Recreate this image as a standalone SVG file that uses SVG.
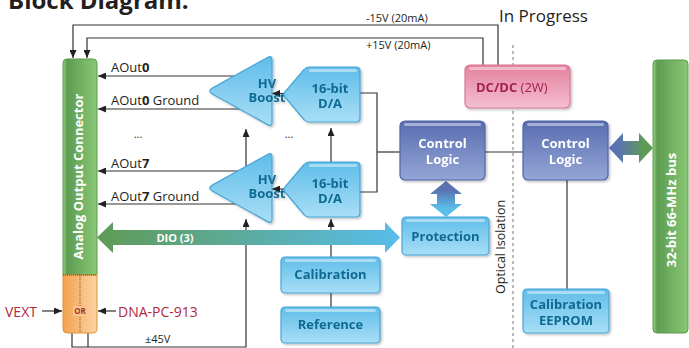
<svg xmlns="http://www.w3.org/2000/svg" width="689" height="348" viewBox="0 0 689 348">
<defs>
<style>
.ln{fill:none;stroke:#333;stroke-width:1.2}
.dk{font-family:"Open Sans","Liberation Sans",sans-serif;fill:#231f20}
.lb{font-family:"Open Sans","Liberation Sans",sans-serif;font-size:13px;fill:#231f20}
.bt{font-family:"Open Sans","Liberation Sans",sans-serif;font-weight:bold;font-size:13px;fill:#0f6a93;text-anchor:middle}
.wt{font-family:"Open Sans","Liberation Sans",sans-serif;font-weight:bold;fill:#fff;text-anchor:middle}
.rd{font-family:"Open Sans","Liberation Sans",sans-serif;font-size:14px;fill:#b0283a}
.blue{fill:url(#gBlue);stroke:#48a6d6;stroke-width:1.2}
.slate{fill:url(#gSlate);stroke:#4f64a8;stroke-width:1.2}
.hl{fill:#fff;opacity:0.45}
.shd{filter:url(#shadow)}
</style>
<linearGradient id="gBlue" x1="0" y1="0" x2="0" y2="1">
<stop offset="0" stop-color="#5fbde9"/><stop offset="1" stop-color="#a9def6"/>
</linearGradient>
<linearGradient id="gSlate" x1="0" y1="0" x2="0" y2="1">
<stop offset="0" stop-color="#586daf"/><stop offset="1" stop-color="#94a5d6"/>
</linearGradient>
<linearGradient id="gPink" x1="0" y1="0" x2="0" y2="1">
<stop offset="0" stop-color="#e5819f"/><stop offset="1" stop-color="#f4bfd0"/>
</linearGradient>
<linearGradient id="gGreen" x1="0" y1="0" x2="1" y2="0">
<stop offset="0" stop-color="#98d184"/><stop offset="0.12" stop-color="#5d9c51"/><stop offset="1" stop-color="#8ac877"/>
</linearGradient>
<linearGradient id="gOrange" x1="0" y1="0" x2="1" y2="0">
<stop offset="0" stop-color="#f3a24f"/><stop offset="1" stop-color="#fdd3a2"/>
</linearGradient>
<linearGradient id="gDio" x1="97" y1="0" x2="400" y2="0" gradientUnits="userSpaceOnUse">
<stop offset="0" stop-color="#5f9a55"/><stop offset="1" stop-color="#58bdec"/>
</linearGradient>
<linearGradient id="gBus" x1="609" y1="0" x2="653" y2="0" gradientUnits="userSpaceOnUse">
<stop offset="0.2" stop-color="#5a72b3"/><stop offset="0.8" stop-color="#5e9c56"/>
</linearGradient>
<linearGradient id="gVert" x1="0" y1="181" x2="0" y2="217" gradientUnits="userSpaceOnUse">
<stop offset="0.25" stop-color="#5a71b2"/><stop offset="0.75" stop-color="#5bbde9"/>
</linearGradient>
<filter id="shadow" x="-10%" y="-10%" width="125%" height="130%">
<feDropShadow dx="1.5" dy="1.5" stdDeviation="1" flood-color="#000" flood-opacity="0.25"/>
</filter>
<marker id="ar" viewBox="0 0 8 7" refX="8" refY="3.5" markerWidth="8" markerHeight="7" markerUnits="userSpaceOnUse" orient="auto">
<path d="M0,0 L8,3.5 L0,7 z" fill="#222"/>
</marker>
</defs>

<rect width="689" height="348" fill="#fff"/>

<text class="dk" x="8" y="9" font-size="24" font-weight="bold">Block Diagram:</text>
<text class="dk" x="499" y="22" font-size="17" fill="#333">In Progress</text>

<!-- optical isolation -->
<g id="isolation">
<line x1="513" y1="45" x2="513" y2="348" stroke="#8a8a8a" stroke-width="1.2" stroke-dasharray="3,3"/>
<text class="dk" transform="translate(505,247) rotate(-90)" font-size="12.5" fill="#555" text-anchor="middle">Optical Isolation</text>
</g>

<g id="connectors">
<path class="ln" d="M498,65 V25 H73 V58" marker-end="url(#ar)"/>
<path class="ln" d="M483,65 V38 H87 V58" marker-end="url(#ar)"/>
<path class="ln" d="M245,76 H98" marker-end="url(#ar)"/>
<path class="ln" d="M245,109 H98" marker-end="url(#ar)"/>
<path class="ln" d="M245,171 H98" marker-end="url(#ar)"/>
<path class="ln" d="M245,204 H98" marker-end="url(#ar)"/>
<path class="ln" d="M284,93.5 H272" marker-end="url(#ar)"/>
<path class="ln" d="M284,189 H272" marker-end="url(#ar)"/>
<path class="ln" d="M72,333 V347 H246 V219" marker-end="url(#ar)"/>
<path class="ln" d="M88,333 V347"/>
<path class="ln" d="M246,168 V129" marker-end="url(#ar)"/>
<path class="ln" d="M331,257 V219" marker-end="url(#ar)"/>
<path class="ln" d="M331,165 V128" marker-end="url(#ar)"/>
<path class="ln" d="M331,293 V307"/>
<path class="ln" d="M360,93 H377 V192 H360"/>
<path class="ln" d="M377,152 H400"/>
<path class="ln" d="M485,152 H523"/>
<path class="ln" d="M567,180 V289"/>
<path class="ln" d="M42,311 H62" marker-end="url(#ar)"/>
<path class="ln" d="M116,311 H98" marker-end="url(#ar)"/>
<text class="dk" x="366" y="22" font-size="11">-15V (20mA)</text>
<text class="dk" x="366" y="49" font-size="11">+15V (20mA)</text>
<text class="dk" x="145" y="343" font-size="11">±45V</text>
<!-- DIO block arrow -->
<path d="M97,237.5 L113,222 L113,230 L385,230 L385,222 L400,237.5 L385,253 L385,245 L113,245 L113,253 Z" fill="url(#gDio)"/>
<text class="wt" x="175" y="242" font-size="11">DIO (3)</text>
<!-- bus arrow -->
<path d="M609,148 L623,133 L623,141 L639,141 L639,133 L653,148 L639,163 L639,155 L623,155 L623,163 Z" fill="url(#gBus)"/>
<!-- control/protection arrow -->
<path d="M446,181 L462,194 L455,194 L455,204 L462,204 L446,217 L430,204 L437,204 L437,194 L430,194 Z" fill="url(#gVert)"/>
</g>

<g id="connector-analog">
<path d="M63,275 V63 Q63,59 67,59 H93 Q97,59 97,63 V275 Z" fill="url(#gGreen)" stroke="#5a9a4a" stroke-width="1"/>
<path d="M63,275 H97 V329 Q97,333 93,333 H67 Q63,333 63,329 Z" fill="url(#gOrange)" stroke="#e3913c" stroke-width="1"/>
<line x1="63" y1="275" x2="97" y2="275" stroke="#5a3a1a" stroke-width="0.8" stroke-dasharray="1,1"/>
<line x1="80" y1="275" x2="80" y2="333" stroke="#5a3a1a" stroke-width="0.8" stroke-dasharray="1,1"/>
<text class="wt" transform="translate(83,176.5) rotate(-90)" font-size="13">Analog Output Connector</text>
<rect x="73" y="306" width="14" height="10" fill="#fcc58a"/>
<text x="80" y="314" font-family="Open Sans,Liberation Sans,sans-serif" font-size="8" font-weight="bold" fill="#a8322f" text-anchor="middle">OR</text>
</g>

<g id="labels-aout">
<text class="lb" x="111" y="72">AOut<tspan font-weight="bold">0</tspan></text>
<text class="lb" x="111" y="105">AOut<tspan font-weight="bold">0</tspan> Ground</text>
<text class="lb" x="111" y="168">AOut<tspan font-weight="bold">7</tspan></text>
<text class="lb" x="111" y="201">AOut<tspan font-weight="bold">7</tspan> Ground</text>
<text class="dk" x="138" y="138" font-size="11" text-anchor="middle">...</text>
<text class="dk" x="289" y="138" font-size="11" text-anchor="middle">...</text>
</g>

<g id="vext">
<text class="rd" x="5" y="317">VEXT</text>
<text class="rd" x="118" y="317">DNA-PC-913</text>
</g>

<g id="hv-boost-0" class="shd">
<path class="blue" d="M272,60 L272,122 Q272,127 267.6,124.6 L212.3,93.9 Q207,91 212.3,88.1 L267.6,57.4 Q272,55 272,60 Z"/>
<text class="bt" x="267" y="88" font-size="12" text-anchor="end">HV</text>
<text class="bt" x="267" y="101.5" font-size="12" text-anchor="end">Boost</text>
</g>
<g id="hv-boost-7" class="shd">
<path class="blue" transform="translate(0,97)" d="M272,60 L272,122 Q272,127 267.6,124.6 L212.3,93.9 Q207,91 212.3,88.1 L267.6,57.4 Q272,55 272,60 Z"/>
<text class="bt" x="267" y="184" font-size="12" text-anchor="end">HV</text>
<text class="bt" x="267" y="197.5" font-size="12" text-anchor="end">Boost</text>
</g>

<g id="da-0" class="shd">
<path class="blue" d="M309,67 L356,67 Q360,67 360,71 L360,118 Q360,122 356,122 L309,122 Q306,122 304,119.5 L285,97 Q283,94.5 285,92 L304,69.5 Q306,67 309,67 Z"/>
<rect class="hl" x="309" y="69" width="48" height="3" rx="1.5"/>
<text class="bt" x="330" y="92.5">16-bit</text>
<text class="bt" x="330" y="107.5">D/A</text>
</g>
<g id="da-7" class="shd">
<path class="blue" transform="translate(0,95)" d="M309,67 L356,67 Q360,67 360,71 L360,118 Q360,122 356,122 L309,122 Q306,122 304,119.5 L285,97 Q283,94.5 285,92 L304,69.5 Q306,67 309,67 Z"/>
<rect class="hl" x="309" y="164" width="48" height="3" rx="1.5"/>
<text class="bt" x="330" y="188">16-bit</text>
<text class="bt" x="330" y="203">D/A</text>
</g>

<g id="control-logic-left" class="shd">
<rect class="slate" x="400" y="121" width="85" height="59" rx="5"/>
<rect class="hl" x="404" y="123" width="77" height="3" rx="1.5"/>
<text class="wt" x="442.5" y="147.5" font-size="13">Control</text>
<text class="wt" x="442.5" y="163.5" font-size="13">Logic</text>
</g>
<g id="control-logic-right" class="shd">
<rect class="slate" x="523" y="121" width="85" height="59" rx="5"/>
<rect class="hl" x="527" y="123" width="77" height="3" rx="1.5"/>
<text class="wt" x="565.5" y="147.5" font-size="13">Control</text>
<text class="wt" x="565.5" y="163.5" font-size="13">Logic</text>
</g>

<g id="protection" class="shd">
<rect class="blue" x="402" y="217" width="87" height="38" rx="4"/>
<rect class="hl" x="406" y="219" width="79" height="3" rx="1.5"/>
<text class="bt" x="445.5" y="241">Protection</text>
</g>
<g id="calibration" class="shd">
<rect class="blue" x="281" y="257" width="99" height="36" rx="4"/>
<rect class="hl" x="285" y="259" width="91" height="3" rx="1.5"/>
<text class="bt" x="330.5" y="279">Calibration</text>
</g>
<g id="reference" class="shd">
<rect class="blue" x="281" y="307" width="99" height="36" rx="4"/>
<rect class="hl" x="285" y="309" width="91" height="3" rx="1.5"/>
<text class="bt" x="330.5" y="329">Reference</text>
</g>
<g id="calibration-eeprom" class="shd">
<rect class="blue" x="523" y="289" width="86" height="44" rx="4"/>
<rect class="hl" x="527" y="291" width="78" height="3" rx="1.5"/>
<text class="bt" x="566" y="309" font-size="12.5">Calibration</text>
<text class="bt" x="566" y="324.5" font-size="12.5">EEPROM</text>
</g>

<g id="dcdc" class="shd">
<rect x="465" y="65" width="105" height="43" rx="5" fill="url(#gPink)" stroke="#d7789a" stroke-width="1.2"/>
<rect class="hl" x="469" y="67" width="97" height="3" rx="1.5"/>
<text x="476" y="92" font-family="Open Sans,Liberation Sans,sans-serif" font-size="13" fill="#a3204e"><tspan font-weight="bold">DC/DC</tspan> (2W)</text>
</g>

<g id="bus">
<rect x="653" y="60" width="35" height="273" rx="4" fill="url(#gGreen)" stroke="#5a9a4a" stroke-width="1"/>
<text class="wt" transform="translate(676,210) rotate(-90)" font-size="13">32-bit 66-MHz bus</text>
</g>
</svg>
